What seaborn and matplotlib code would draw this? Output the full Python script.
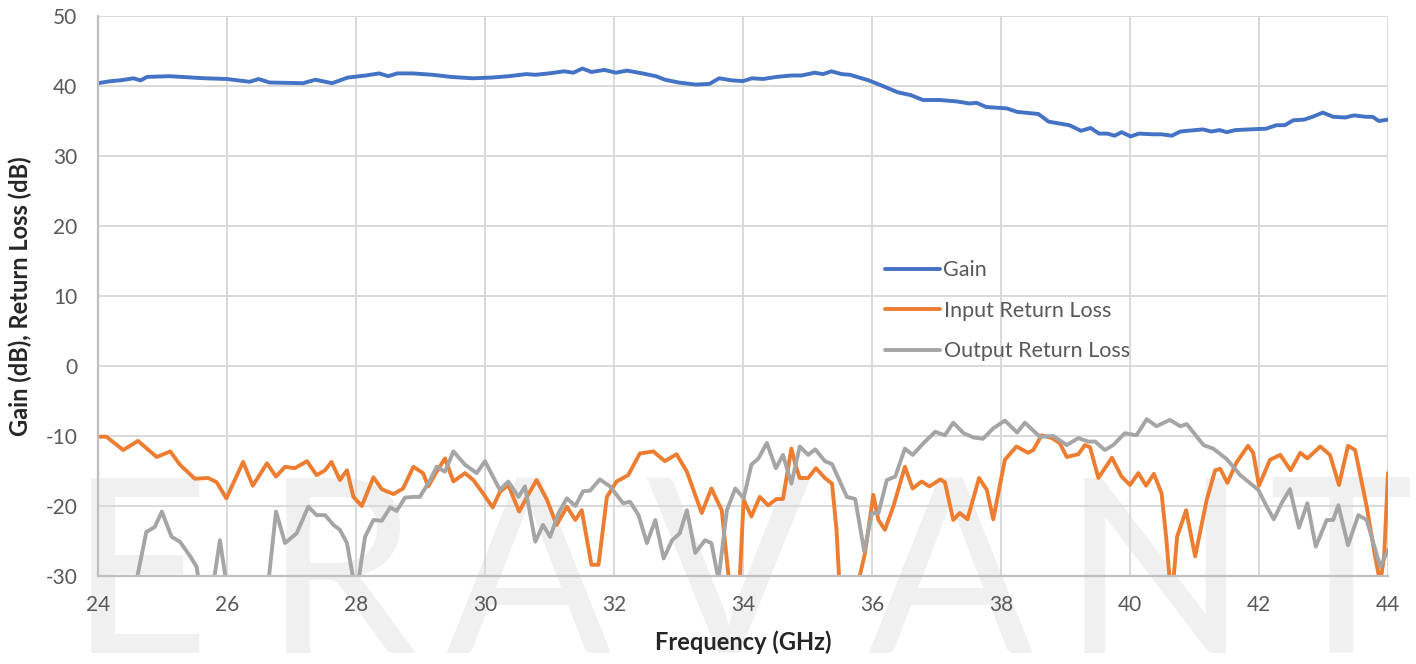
import matplotlib
matplotlib.use("Agg")
import matplotlib.pyplot as plt
from matplotlib.ticker import MultipleLocator
import seaborn as sns
import pandas as pd

# Gain trace (GHz, dB)
gain_freq = [24.00, 24.20, 24.34, 24.55, 24.66, 24.76, 25.11, 25.66, 26.00, 26.35,
             26.49, 26.66, 27.18, 27.37, 27.63, 27.87, 28.15, 28.36, 28.50, 28.64,
             28.88, 29.19, 29.47, 29.81, 30.09, 30.37, 30.64, 30.78, 30.99, 31.23,
             31.37, 31.51, 31.65, 31.85, 32.03, 32.20, 32.44, 32.65, 32.79, 33.00,
             33.27, 33.48, 33.63, 33.83, 34.00, 34.14, 34.31, 34.52, 34.75, 34.91,
             35.11, 35.24, 35.37, 35.53, 35.66, 35.95, 36.14, 36.40, 36.60, 36.79,
             37.05, 37.31, 37.51, 37.62, 37.77, 38.09, 38.25, 38.58, 38.74, 39.06,
             39.24, 39.39, 39.52, 39.65, 39.76, 39.87, 40.01, 40.14, 40.36, 40.49,
             40.65, 40.78, 41.01, 41.13, 41.26, 41.39, 41.50, 41.63, 41.85, 42.11,
             42.27, 42.40, 42.53, 42.70, 42.83, 42.99, 43.15, 43.34, 43.47, 43.66,
             43.76, 43.86, 44.00]
gain_db = [40.4, 40.7, 40.8, 41.1, 40.8, 41.3, 41.4, 41.1, 41.0, 40.6,
           41.0, 40.5, 40.4, 40.9, 40.4, 41.2, 41.5, 41.8, 41.4, 41.8,
           41.8, 41.6, 41.3, 41.1, 41.2, 41.4, 41.7, 41.6, 41.8, 42.1,
           41.9, 42.5, 42.0, 42.3, 41.9, 42.2, 41.8, 41.4, 40.9, 40.5,
           40.2, 40.3, 41.1, 40.8, 40.7, 41.1, 41.0, 41.3, 41.5, 41.5,
           41.9, 41.7, 42.1, 41.7, 41.6, 40.8, 40.1, 39.1, 38.7, 38.0,
           38.0, 37.8, 37.5, 37.6, 37.0, 36.8, 36.3, 36.0, 34.9, 34.4,
           33.6, 34.0, 33.2, 33.2, 32.9, 33.4, 32.8, 33.2, 33.1, 33.1,
           32.9, 33.5, 33.7, 33.8, 33.5, 33.7, 33.4, 33.7, 33.8, 33.9,
           34.4, 34.4, 35.1, 35.2, 35.6, 36.2, 35.6, 35.5, 35.8, 35.6,
           35.6, 35.0, 35.2]

# Input return loss trace
in_freq = [24.00, 24.13, 24.39, 24.62, 24.91, 25.12, 25.27, 25.50, 25.71, 25.84,
           25.99, 26.25, 26.40, 26.62, 26.76, 26.90, 27.05, 27.24, 27.39, 27.52,
           27.62, 27.75, 27.86, 27.96, 28.09, 28.27, 28.40, 28.58, 28.73, 28.89,
           29.04, 29.12, 29.25, 29.38, 29.51, 29.69, 29.82, 29.97, 30.12, 30.23,
           30.36, 30.53, 30.65, 30.80, 30.96, 31.11, 31.27, 31.40, 31.50, 31.65,
           31.76, 31.89, 32.04, 32.22, 32.40, 32.61, 32.79, 32.97, 33.13, 33.36,
           33.51, 33.67, 33.82, 33.93, 34.01, 34.13, 34.26, 34.39, 34.52, 34.62,
           34.75, 34.81, 34.88, 35.01, 35.13, 35.27, 35.38, 35.45, 35.50, 35.76,
           35.89, 36.02, 36.10, 36.20, 36.33, 36.51, 36.63, 36.77, 36.89, 37.06,
           37.13, 37.26, 37.36, 37.48, 37.66, 37.78, 37.88, 38.06, 38.24, 38.42,
           38.50, 38.63, 38.79, 38.91, 39.02, 39.20, 39.30, 39.38, 39.51, 39.72,
           39.87, 40.00, 40.13, 40.25, 40.37, 40.49, 40.56, 40.62, 40.67, 40.73,
           40.87, 41.01, 41.19, 41.32, 41.40, 41.51, 41.65, 41.83, 41.91, 42.00,
           42.17, 42.33, 42.49, 42.64, 42.75, 42.95, 43.10, 43.24, 43.38, 43.49,
           43.67, 43.80, 43.88, 43.94, 44.00]
in_rl = [-10.1, -10.1, -12.0, -10.7, -13.0, -12.2, -14.1, -16.1, -16.0, -16.6,
         -18.9, -13.7, -17.1, -13.9, -15.8, -14.4, -14.6, -13.6, -15.6, -14.9,
         -13.7, -16.3, -14.9, -18.7, -20.0, -15.9, -17.6, -18.3, -17.5, -14.4,
         -15.3, -17.2, -15.1, -13.2, -16.5, -15.3, -16.3, -18.2, -20.2, -18.0,
         -17.0, -20.8, -18.7, -16.3, -19.1, -22.7, -20.1, -22.0, -20.6, -28.4,
         -28.4, -18.7, -16.5, -15.6, -12.5, -12.2, -13.6, -12.6, -15.1, -21.0,
         -17.5, -20.6, -34.0, -34.0, -19.1, -21.5, -18.7, -19.9, -19.0, -19.0,
         -11.8, -14.0, -16.0, -16.0, -14.6, -16.0, -16.8, -23.4, -32.0, -32.0,
         -26.8, -18.4, -22.0, -23.4, -20.1, -14.4, -17.5, -16.5, -17.2, -16.2,
         -16.6, -22.0, -21.0, -21.9, -16.0, -17.7, -21.9, -13.4, -11.5, -12.4,
         -12.0, -9.9, -10.3, -11.0, -13.0, -12.6, -11.3, -11.6, -16.0, -13.1,
         -15.8, -17.0, -15.3, -17.1, -15.4, -18.2, -24.4, -31.0, -31.0, -24.4,
         -20.6, -27.2, -19.1, -14.9, -14.7, -16.7, -13.8, -11.4, -12.4, -17.1,
         -13.4, -12.7, -14.9, -12.4, -13.2, -11.5, -12.7, -17.0, -11.4, -12.0,
         -20.1, -27.2, -31.0, -27.2, -15.3]

# Output return loss trace (values below -30 fall off the axis)
out_freq = [24.00, 24.40, 24.60, 24.75, 24.88, 24.99, 25.14, 25.27, 25.43, 25.53,
            25.58, 25.79, 25.89, 25.99, 26.20, 26.64, 26.76, 26.90, 27.08, 27.26,
            27.39, 27.52, 27.65, 27.75, 27.86, 27.96, 28.00, 28.04, 28.14, 28.27,
            28.40, 28.53, 28.63, 28.76, 28.89, 28.99, 29.15, 29.25, 29.38, 29.51,
            29.69, 29.87, 30.00, 30.23, 30.36, 30.52, 30.62, 30.78, 30.90, 31.01,
            31.14, 31.27, 31.40, 31.52, 31.63, 31.78, 31.94, 32.14, 32.25, 32.38,
            32.51, 32.64, 32.77, 32.90, 33.02, 33.13, 33.26, 33.41, 33.51, 33.62,
            33.75, 33.88, 34.01, 34.13, 34.24, 34.37, 34.51, 34.62, 34.75, 34.88,
            35.01, 35.12, 35.27, 35.38, 35.61, 35.74, 35.88, 36.00, 36.10, 36.23,
            36.36, 36.51, 36.63, 36.80, 36.98, 37.13, 37.26, 37.42, 37.57, 37.72,
            37.88, 38.06, 38.25, 38.37, 38.60, 38.81, 39.02, 39.20, 39.35, 39.46,
            39.61, 39.74, 39.92, 40.10, 40.26, 40.41, 40.62, 40.78, 40.88, 41.14,
            41.29, 41.50, 41.71, 41.99, 42.12, 42.23, 42.35, 42.48, 42.62, 42.75,
            42.88, 43.05, 43.15, 43.23, 43.38, 43.54, 43.67, 43.88, 44.00]
out_rl = [-40.0, -36.0, -30.5, -23.7, -23.0, -20.8, -24.4, -25.1, -27.2, -28.7,
          -32.0, -31.0, -24.9, -31.0, -36.0, -31.0, -20.8, -25.3, -23.9, -20.1,
          -21.3, -21.3, -22.7, -23.4, -25.3, -30.5, -31.5, -30.5, -24.4, -22.0,
          -22.1, -20.2, -20.7, -18.8, -18.7, -18.7, -16.3, -14.4, -15.1, -12.2,
          -14.1, -15.3, -13.6, -17.7, -16.5, -18.7, -17.2, -25.1, -22.7, -24.4,
          -21.0, -18.9, -20.0, -17.9, -17.8, -16.2, -17.2, -19.6, -19.4, -21.3,
          -25.3, -22.0, -27.5, -24.9, -23.9, -20.6, -26.7, -24.9, -25.3, -30.5,
          -20.6, -17.5, -18.9, -14.1, -13.2, -11.0, -14.6, -12.7, -16.8, -11.5,
          -12.7, -11.9, -13.6, -14.0, -18.7, -19.0, -26.5, -21.0, -21.0, -16.3,
          -15.8, -11.8, -12.7, -11.0, -9.4, -9.9, -8.1, -9.6, -10.2, -10.4,
          -8.9, -7.8, -9.5, -8.1, -10.1, -10.0, -11.3, -10.3, -10.8, -10.8,
          -12.0, -11.3, -9.6, -9.9, -7.6, -8.6, -7.7, -8.6, -8.3, -11.3,
          -11.8, -13.3, -15.6, -17.7, -20.1, -21.9, -19.6, -17.6, -23.1, -19.6,
          -25.8, -22.0, -22.0, -19.9, -25.6, -21.3, -22.0, -28.7, -26.3]

x_ticks = [24, 26, 28, 30, 32, 34, 36, 38, 40, 42, 44]
y_ticks = [-30, -20, -10, 0, 10, 20, 30, 40, 50]
watermark = ["E", "R", "A", "V", "A", "N", "T"]

sns.set_style("white")
plt.rcParams['font.family'] = ['Lato', 'DejaVu Sans']
plt.rcParams['axes.unicode_minus'] = False

fig = plt.figure(figsize=(14.16, 6.64), dpi=100)
fig.patch.set_facecolor("white")

# big faint logo letters behind everything
wm_x = [139, 340, 528, 728, 950, 1155, 1340]
for letter, px in zip(watermark, wm_x):
    fig.text(px / 1416, 11 / 664, letter, ha="center", va="baseline",
             fontsize=176, color="#f0f0f0", zorder=-10)

ax = fig.add_axes([98 / 1416, 88 / 664, 1290 / 1416, 560 / 664])
ax.set_facecolor("none")
ax.set_zorder(1)

gain_df = pd.DataFrame({"freq": gain_freq, "val": gain_db})
in_df = pd.DataFrame({"freq": in_freq, "val": in_rl})
out_df = pd.DataFrame({"freq": out_freq, "val": out_rl})

sns.lineplot(data=gain_df, x="freq", y="val", ax=ax, color="#4472C4", lw=2.8,
             estimator=None, sort=False, label="Gain")
sns.lineplot(data=in_df, x="freq", y="val", ax=ax, color="#ED7D31", lw=2.8,
             estimator=None, sort=False, label="Input Return Loss")
sns.lineplot(data=out_df, x="freq", y="val", ax=ax, color="#A5A5A5", lw=2.8,
             estimator=None, sort=False, label="Output Return Loss")

ax.set_xlim(24, 44)
ax.set_ylim(-30, 50)
ax.set_xticks(x_ticks)
ax.set_yticks(y_ticks)
ax.xaxis.set_minor_locator(MultipleLocator(0.5))
ax.yaxis.set_minor_locator(MultipleLocator(2))
ax.grid(True, which="major", color="#d9d9d9", lw=1.4)
ax.set_axisbelow(True)

for side in ["top", "right"]:
    ax.spines[side].set_visible(False)
for side in ["left", "bottom"]:
    ax.spines[side].set_color("#bfbfbf")
    ax.spines[side].set_linewidth(1.6)

ax.tick_params(which="major", length=0, labelsize=15, labelcolor="#595959")
ax.tick_params(axis="y", which="major", pad=15)
ax.tick_params(axis="x", which="major", pad=14)
ax.tick_params(which="minor", direction="in", length=4.5, width=1.1, color="#bfbfbf")

ax.set_xlabel("Frequency (GHz)", fontsize=17, fontweight="bold")
ax.set_ylabel("Gain (dB), Return Loss (dB)", fontsize=17, fontweight="bold")
ax.xaxis.set_label_coords(0.5, -0.098)
ax.yaxis.set_label_coords(-0.051, 0.5)

leg = ax.legend(loc="upper left", bbox_to_anchor=(866 / 1416, 1 - 241 / 664),
                bbox_transform=fig.transFigure, frameon=False, fontsize=15.5,
                handlelength=2.55, handletextpad=0.15, labelspacing=0.95)
for t in leg.get_texts():
    t.set_color("#595959")

fig.savefig("out.png", dpi=100, facecolor="white")
